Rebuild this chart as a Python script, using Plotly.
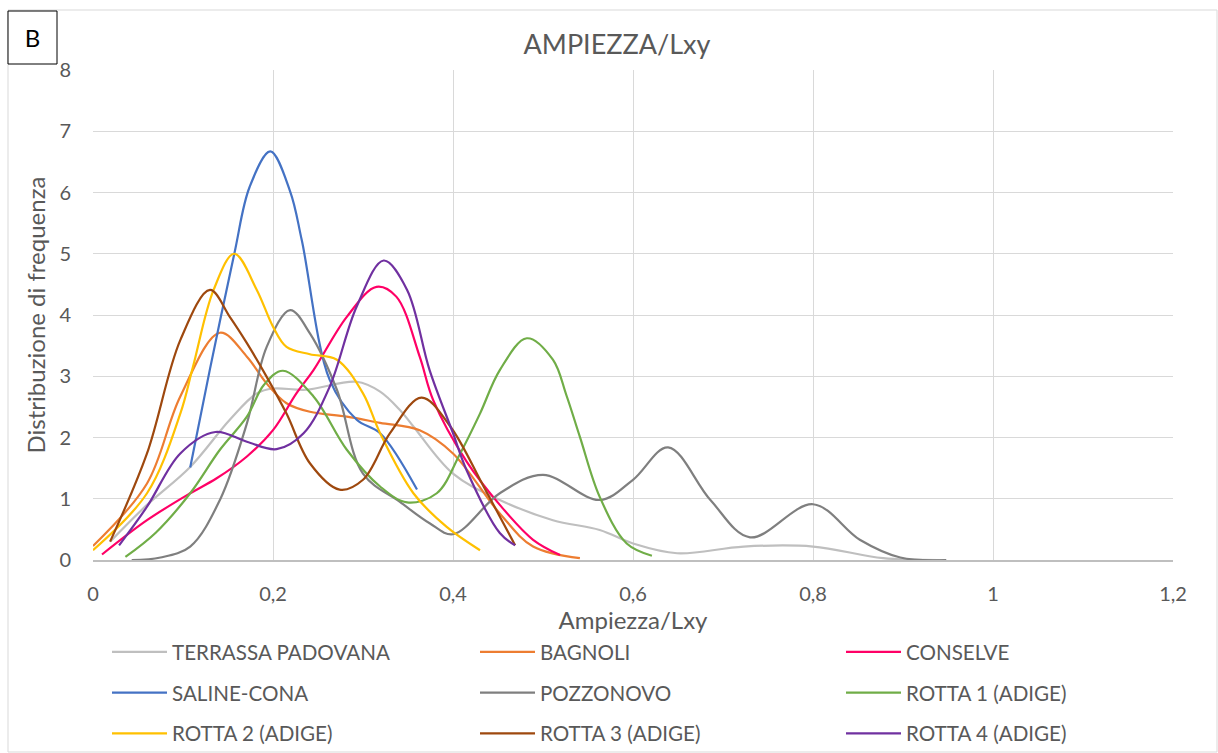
import plotly.graph_objects as go

# ---------------- data ----------------
series_names = ["TERRASSA PADOVANA", "BAGNOLI", "CONSELVE",
                "SALINE-CONA", "POZZONOVO", "ROTTA 1 (ADIGE)",
                "ROTTA 2 (ADIGE)", "ROTTA 3 (ADIGE)", "ROTTA 4 (ADIGE)"]
series_colors = ["#bfbfbf", "#ed7d31", "#ff0066",
                 "#4472c4", "#7f7f7f", "#70ad47",
                 "#ffc000", "#9e480e", "#7030a0"]

terrassa_x = [0.019, 0.06, 0.108, 0.152, 0.182, 0.2, 0.237, 0.293, 0.319, 0.341, 0.356, 0.4, 0.452, 0.511, 0.563, 0.6, 0.649, 0.723, 0.8, 0.878, 0.948]
terrassa_y = [0.30, 0.90, 1.52, 2.29, 2.72, 2.80, 2.78, 2.91, 2.75, 2.45, 2.18, 1.41, 0.98, 0.65, 0.49, 0.27, 0.11, 0.22, 0.22, 0.03, 0.0]

bagnoli_x = [0.0, 0.06, 0.097, 0.141, 0.171, 0.193, 0.215, 0.241, 0.282, 0.319, 0.363, 0.4, 0.452, 0.489, 0.541]
bagnoli_y = [0.23, 1.25, 2.67, 3.71, 3.32, 2.88, 2.56, 2.42, 2.34, 2.24, 2.12, 1.74, 0.76, 0.22, 0.03]

conselve_x = [0.01, 0.06, 0.108, 0.137, 0.171, 0.2, 0.226, 0.245, 0.282, 0.315, 0.337, 0.363, 0.378, 0.415, 0.452, 0.489, 0.519]
conselve_y = [0.09, 0.65, 1.09, 1.33, 1.69, 2.12, 2.72, 3.10, 3.97, 4.46, 4.30, 3.32, 2.61, 1.61, 0.90, 0.33, 0.08]

saline_x = [0.108, 0.130, 0.157, 0.174, 0.197, 0.219, 0.232, 0.263, 0.293, 0.319, 0.360]
saline_y = [1.51, 3.12, 5.0, 6.09, 6.67, 6.02, 5.22, 2.94, 2.29, 2.07, 1.15]

pozzonovo_x = [0.043, 0.075, 0.108, 0.141, 0.171, 0.193, 0.219, 0.241, 0.271, 0.3, 0.341, 0.374, 0.4, 0.452, 0.5, 0.563, 0.6, 0.639, 0.686, 0.73, 0.8, 0.852, 0.897, 0.948]
pozzonovo_y = [0.0, 0.04, 0.22, 0.98, 2.23, 3.48, 4.08, 3.70, 2.78, 1.41, 0.95, 0.60, 0.42, 1.09, 1.39, 0.98, 1.31, 1.84, 0.98, 0.37, 0.91, 0.33, 0.04, 0.0]

rotta1_x = [0.036, 0.07, 0.108, 0.141, 0.171, 0.19, 0.211, 0.245, 0.282, 0.319, 0.349, 0.382, 0.408, 0.43, 0.452, 0.482, 0.511, 0.526, 0.541, 0.563, 0.593, 0.621]
rotta1_y = [0.05, 0.45, 1.09, 1.80, 2.34, 2.86, 3.09, 2.67, 1.80, 1.20, 0.94, 1.09, 1.74, 2.39, 3.10, 3.62, 3.27, 2.69, 2.01, 1.03, 0.27, 0.07]

rotta2_x = [0.0, 0.06, 0.097, 0.111, 0.134, 0.157, 0.182, 0.2, 0.215, 0.241, 0.271, 0.3, 0.319, 0.356, 0.393, 0.43]
rotta2_y = [0.16, 1.09, 2.39, 3.15, 4.41, 5.0, 4.41, 3.81, 3.48, 3.36, 3.27, 2.72, 2.07, 1.09, 0.54, 0.16]

rotta3_x = [0.019, 0.06, 0.097, 0.130, 0.152, 0.171, 0.193, 0.215, 0.241, 0.274, 0.3, 0.33, 0.365, 0.397, 0.434, 0.469]
rotta3_y = [0.30, 1.74, 3.59, 4.41, 3.97, 3.54, 2.99, 2.39, 1.58, 1.15, 1.31, 2.07, 2.65, 2.18, 1.20, 0.24]

rotta4_x = [0.029, 0.06, 0.097, 0.136, 0.171, 0.204, 0.234, 0.263, 0.293, 0.323, 0.349, 0.374, 0.4, 0.415, 0.452, 0.469]
rotta4_y = [0.24, 0.87, 1.74, 2.09, 1.93, 1.81, 2.07, 2.83, 4.14, 4.89, 4.41, 3.10, 2.07, 1.47, 0.44, 0.24]

series_x = [terrassa_x, bagnoli_x, conselve_x, saline_x, pozzonovo_x,
            rotta1_x, rotta2_x, rotta3_x, rotta4_x]
series_y = [terrassa_y, bagnoli_y, conselve_y, saline_y, pozzonovo_y,
            rotta1_y, rotta2_y, rotta3_y, rotta4_y]

x_ticks = [0, 0.2, 0.4, 0.6, 0.8, 1.0, 1.2]
y_ticks = [0, 1, 2, 3, 4, 5, 6, 7, 8]

# ---------------- figure ----------------
FONT = "Lato"
TXT = "#595959"
# legend laid out as 3 columns x 3 rows (row-major order like the reference)
legend_ids = ["legend", "legend2", "legend3"]

fig = go.Figure()
for i, (name, col, xs, ys) in enumerate(zip(series_names, series_colors, series_x, series_y)):
    fig.add_trace(go.Scatter(
        x=xs, y=ys, name=name, mode="lines",
        line=dict(color=col, width=2.2, shape="spline", smoothing=1.0),
        legend=legend_ids[i % 3], legendgroup=name, legendrank=i,
    ))

W, H = 1218, 753
L, R, T, B = 93, 45, 70, 193
pw, ph = W - L - R, H - T - B


def px2x(px):
    return (px - L) / pw


def py2y(py):
    return (H - B - py) / ph


LEG_ITEMW = 55
leg_common = dict(orientation="v", xanchor="left", yanchor="top",
                  y=py2y(632), tracegroupgap=11,
                  font=dict(family=FONT, size=20.6, color=TXT),
                  bgcolor="rgba(0,0,0,0)", itemwidth=LEG_ITEMW)
shift = LEG_ITEMW - 30

fig.update_layout(
    width=W, height=H,
    margin=dict(l=L, r=R, t=T, b=B, autoexpand=False),
    paper_bgcolor="white", plot_bgcolor="white",
    separators=", ",
    font=dict(family=FONT, color=TXT),
    title=dict(text="AMPIEZZA/Lxy", x=px2x(617), xref="paper", xanchor="center",
               y=1 - 45 / H, yref="container", yanchor="middle",
               font=dict(family=FONT, size=27, color=TXT)),
    xaxis=dict(range=[0, 1.2], tickvals=x_ticks, tickformat="~g",
               showgrid=True, gridcolor="#d9d9d9", gridwidth=1,
               zeroline=False, showline=True, linecolor="#bfbfbf", linewidth=1.5,
               ticks="", ticklabelstandoff=15,
               tickfont=dict(family=FONT, size=20, color=TXT),
               title=dict(text="Ampiezza/Lxy", standoff=3,
                          font=dict(family=FONT, size=24, color=TXT))),
    yaxis=dict(range=[0, 8], tickvals=y_ticks,
               showgrid=True, gridcolor="#d9d9d9", gridwidth=1,
               zeroline=False, showline=False,
               ticks="", ticklabelstandoff=21,
               tickfont=dict(family=FONT, size=20, color=TXT),
               title=dict(text="Distribuzione di frequenza", standoff=6,
                          font=dict(family=FONT, size=24, color=TXT))),
    legend=dict(x=px2x(132 - shift), **leg_common),
    legend2=dict(x=px2x(500 - shift), **leg_common),
    legend3=dict(x=px2x(866 - shift), **leg_common),
    showlegend=True,
)

# outer chart frame
fig.add_shape(type="rect", xref="paper", yref="paper",
              x0=px2x(8), x1=px2x(1217), y0=py2y(752), y1=py2y(10),
              line=dict(color="#d9d9d9", width=1), layer="below")
# "B" panel label box
fig.add_shape(type="rect", xref="paper", yref="paper",
              x0=px2x(8), x1=px2x(57), y0=py2y(64), y1=py2y(11),
              line=dict(color="black", width=1), fillcolor="white", layer="above",
              label=dict(text="B", textposition="middle center",
                         font=dict(family=FONT, size=24, color="black")))

fig.write_html("out.html", config={"displayModeBar": False},
               post_script="document.body.style.margin='0';")
